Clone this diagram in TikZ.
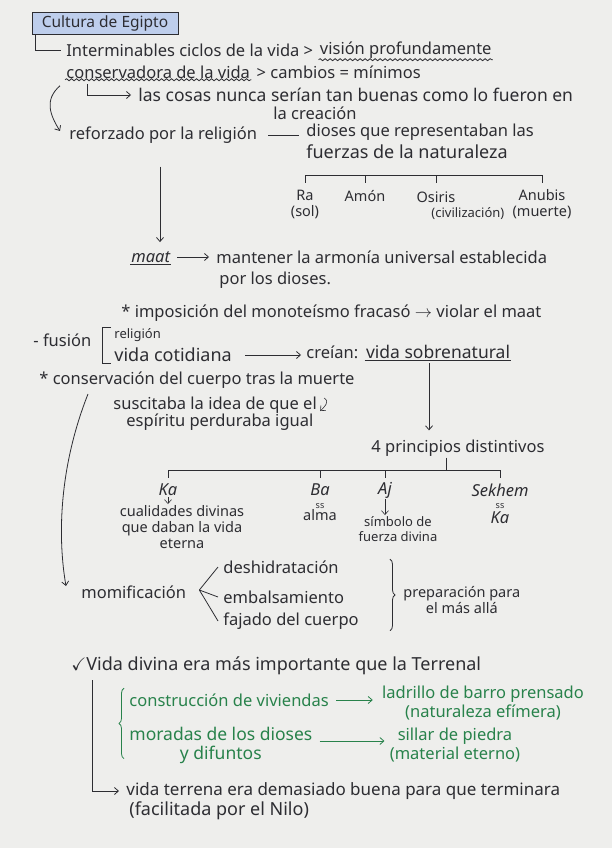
\documentclass[tikz,border=0pt]{standalone}
\usepackage{amssymb}
\usepackage{fontspec}
\setmainfont{Noto Sans}
\usepackage{tikz}
\usetikzlibrary{arrows.meta, positioning, calc, decorations.pathmorphing, decorations.pathreplacing}
\definecolor{ink}{RGB}{45,45,50}
\definecolor{pen}{RGB}{40,130,75}
\definecolor{paper}{RGB}{238,238,236}
\definecolor{marker}{RGB}{190,206,236}

\begin{document}
\begin{tikzpicture}[x=1pt, y=-1pt, line width=0.8pt, draw=ink,
                every node/.style={font=\fontsize{16.5}{19}\selectfont, text=ink, inner sep=1pt},
                txt/.style={anchor=west},
                lines/.style={align=center},
                medio/.style={font=\fontsize{14.5}{16}\selectfont},
                menor/.style={font=\fontsize{13}{15}\selectfont},
                grande/.style={font=\fontsize{18}{20}\selectfont},
                verde/.style={text=pen},
                arr/.style={-{Straight Barb[length=4pt, width=7pt]}},
                wavy/.style={decorate, decoration={snake, amplitude=1pt, segment length=5pt}},
                brc/.style={decorate, decoration={brace, amplitude=5pt}}]

                \fill[paper] (0,0) rectangle (612,848);
                \useasboundingbox (0,0) rectangle (612,848);

                \node[draw, thick, fill=marker, minimum width=146pt, minimum height=22pt, font=\fontsize{15.5}{18}\selectfont] (titulo) at (105,23) {Cultura de Egipto};

                \node[txt] (ciclos) at (65,50) {Interminables ciclos de la vida >};
                \node[txt, right=4pt of ciclos] (vision) {visión profundamente};
                \node[txt] (conserv) at (65,72) {conservadora de la vida};
                \node[txt, right=4pt of conserv] (cambios) {> cambios = mínimos};
                \node[txt, font=\fontsize{17.5}{19}\selectfont] (cosas) at (137,95) {las cosas nunca serían tan buenas como lo fueron en};
                \node (creacion) at (315,113) {la creación};

                \draw ([xshift=4pt]titulo.south west) |- ([xshift=-4pt]ciclos.west);
                \draw[wavy] (vision.south west) -- (vision.south east);
                \draw[wavy] (conserv.south west) -- (conserv.south east);
                \draw[arr] ($(conserv.south west)+(22,4)$) |- ([xshift=-6pt]cosas.west);

                \node[txt] (refor) at (68,135) {reforzado por la religión};
                \node[txt] (dioses) at (305,132) {dioses que representaban las};
                \node[txt, grande] (fuerzas) at (305,152) {fuerzas de la naturaleza};
                \draw[arr] ($(conserv.south west)+(-5,6)$) .. controls +(-16,14) and +(-10,-16) .. ($(refor.west)+(-8,-4)$);
                \draw[shorten <=10pt, shorten >=6pt] (refor.east) -- (refor.east -| dioses.west);

                \coordinate (gbar) at (300,175);
                \node[lines, medio] (ra) at (305,204) {Ra\\(sol)};
                \node[medio] (amon) at (365,196) {Amón};
                \node[medio] (osiris) at (436,197) {Osiris};
                \node[txt, menor] (civil) at (430,214) {(civilización)};
                \node[lines, medio] (anubis) at (542,204) {Anubis\\(muerte)};
                \draw (ra.north |- gbar) -- (anubis.north |- gbar);
                \foreach \dios in {ra, amon, osiris, anubis}
                    \draw (\dios.north |- gbar) -- ++(0,8);

                \node[txt] (maat) at (130,257) {\itshape maat};
                \node[txt] (mantener) at (215,257) {mantener la armonía universal establecida};
                \node[txt] (pordioses) at (218,280) {por los dioses.};
                \draw[thick] (maat.south west) -- (maat.south east);
                \draw[arr, shorten <=22pt, shorten >=8pt] ($(refor.south west)+(92,0)$) -- ($(maat.north west)+(30,0)$);
                \draw[arr, shorten <=6pt, shorten >=6pt] (maat.east) -- (mantener.west);

                \node[txt] (monote) at (120,313) {* imposición del monoteísmo fracasó $\rightarrow$ violar el maat};

                \node[txt] (fusion) at (32,340) {- fusión};
                \node[txt, menor] (religion) at (113,335) {religión};
                \node[txt, grande] (cotid) at (113,355) {vida cotidiana};
                \draw ([xshift=-2pt]religion.north west) -- ++(-9,0) |- ([xshift=-2pt]cotid.south west);
                \node[txt] (crian) at (305,352) {creían:};
                \node[txt, right=5pt of crian, font=\fontsize{17.5}{19}\selectfont] (sobre) {vida sobrenatural};
                \draw[thick] (sobre.south west) -- (sobre.south east);
                \draw[arr, shorten <=12pt, shorten >=4pt] (cotid.east) -- (cotid.east -| crian.west);

                \node[txt] (cuerpo) at (38,380) {* conservación del cuerpo tras la muerte};
                \node[txt] (suscita) at (112,405) {suscitaba la idea de que el};
                \node[txt] (espiritu) at (125,422) {espíritu perduraba igual};
                \draw[arr, line width=0.6pt] ($(suscita.east)+(6,-7)$) .. controls +(6,4) and +(4,-4) .. ($(suscita.east)+(2,6)$);

                \node[txt] (principios) at (370,448) {4 principios distintivos};
                \draw[arr, shorten <=3pt, shorten >=8pt] ([xshift=-9pt]sobre.south) -- ([xshift=-9pt]sobre.south |- principios.north);

                \coordinate (pbar) at (300,470);
                \node (ka) at (168,490) {\itshape Ka};
                \node[lines, medio] (kadesc) at (182,527) {cualidades divinas\\que daban la vida\\eterna};
                \node (ba) at (320,490) {\itshape Ba};
                \node[lines, medio] (badesc) at (320,512) {{\small ss}\\[-4pt]alma};
                \node (aj) at (385,490) {\itshape Aj};
                \node[lines, menor] (ajdesc) at (398,529) {símbolo de\\fuerza divina};
                \node (sekhem) at (500,490) {\itshape Sekhem};
                \node[lines] (sekdesc) at (500,514) {{\small ss}\\[-4pt]\itshape Ka};
                \draw (ka.north |- pbar) -- (sekhem.north |- pbar);
                \foreach \pr in {ka, ba, aj, sekhem}
                    \draw (\pr.north |- pbar) -- ++(0,8);
                \draw ([xshift=-12pt]principios.south) -- ([xshift=-12pt]principios.south |- pbar);
                \draw[arr, line width=0.6pt] (ka.south) -- (ka.south |- kadesc.north);
                \draw[arr, line width=0.6pt] (aj.south) -- (aj.south |- ajdesc.north);

                \coordinate (cuerpoarr) at (88,394);
                \node[txt] (momif) at (80,592) {momificación};
                \draw[arr] (cuerpoarr) .. controls (58,470) and (58,540) .. ($(momif.west)+(-14,-6)$);

                \coordinate (momv) at ($(momif.east)+(12,-2)$);
                \node[txt] (deshid) at (222,567) {deshidratación};
                \node[txt] (embal) at (222,597) {embalsamiento};
                \node[txt] (fajado) at (222,621) {fajado del cuerpo};
                \foreach \paso in {deshid, embal, fajado}
                    \draw (momv) -- ([xshift=-4pt]\paso.west);
                \node[txt, lines, medio] (prep) at (402,600) {preparación para\\el más allá};
                \draw[brc] ($(prep.west |- deshid.north)+(-12,0)$) -- ($(prep.west |- fajado.south)+(-12,0)$);

                \node[txt, grande] (vidadiv) at (70,666) {$\checkmark$Vida divina era más importante que la Terrenal};
                \node[txt, verde] (vivi) at (128,700) {construcción de viviendas};
                \node[lines, verde] (ladrillo) at (483,703) {ladrillo de barro prensado\\(naturaleza efímera)};
                \node[txt, lines, verde, font=\fontsize{17.5}{19}\selectfont] (morad) at (128,745) {moradas de los dioses\\y difuntos};
                \node[lines, verde] (sillar) at (455,745) {sillar de piedra\\(material eterno)};
                \draw[pen, arr, shorten <=6pt, shorten >=8pt] (vivi.east) -- (vivi.east -| ladrillo.west);
                \draw[pen, arr, shorten <=6pt, shorten >=4pt] ([yshift=4pt]morad.east) -- ([yshift=4pt]morad.east -| sillar.west);
                \draw[pen, brc] ($(vivi.west |- morad.south)+(-4,-6)$) -- ($(vivi.north west)+(-4,-4)$);

                \node[txt, font=\fontsize{17}{19}\selectfont] (terrena) at (125,791) {vida terrena era demasiado buena para que terminara};
                \node[txt, grande] (facil) at (128,811) {(facilitada por el Nilo)};
                \draw[arr] ($(vidadiv.south west)+(22,4)$) |- ([xshift=-6pt]terrena.west);
            \end{tikzpicture}
\end{document}
